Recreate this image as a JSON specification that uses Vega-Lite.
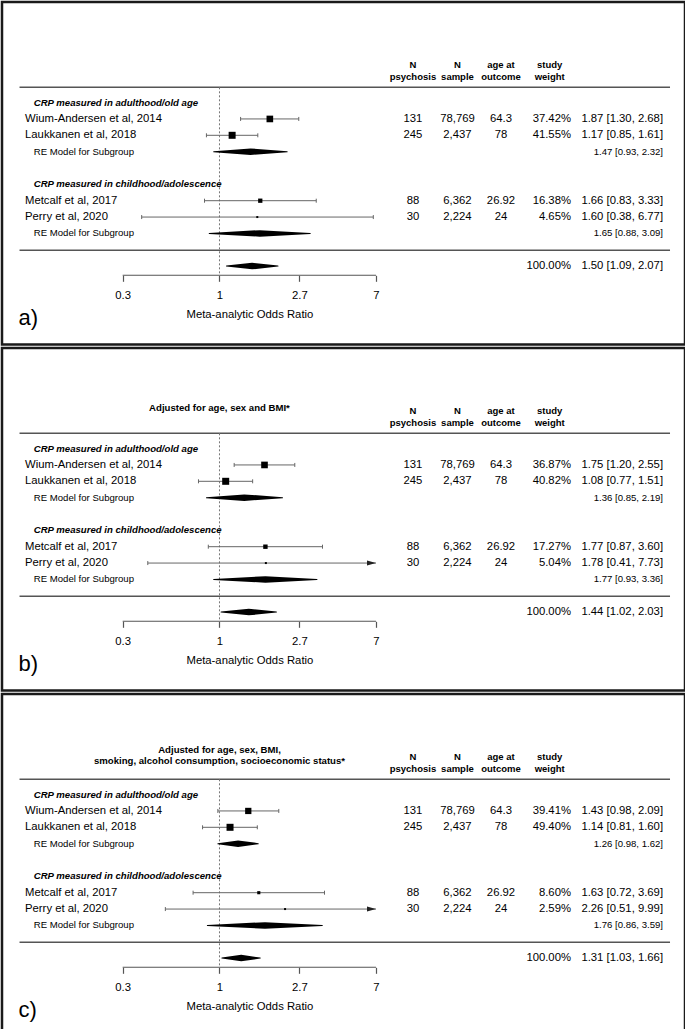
{
"$schema": "https://vega.github.io/schema/vega-lite/v6.json",
"padding": 0,
"spacing": 0,
"datasets": {
"A": [
{"type":"hdr","row":-2.28,"c1":"N","c2":"N","c3":"age at","c4":"study"},
{"type":"hdr","row":-1.566,"c1":"psychosis","c2":"sample","c3":"outcome","c4":"weight"},
{"type":"group","row":0,"label":"CRP measured in adulthood/old age"},
{"type":"study","row":1,"label":"Wium-Andersen et al, 2014","est":1.87,"lo":1.30,"hi":2.68,"w":37.42,"c1":"131","c2":"78,769","c3":"64.3","c4":"37.42%","ci":"1.87 [1.30, 2.68]"},
{"type":"study","row":2,"label":"Laukkanen et al, 2018","est":1.17,"lo":0.85,"hi":1.61,"w":41.55,"c1":"245","c2":"2,437","c3":"78","c4":"41.55%","ci":"1.17 [0.85, 1.61]"},
{"type":"re","row":3,"label":"RE Model for Subgroup","est":1.47,"lo":0.93,"hi":2.32,"ci":"1.47 [0.93, 2.32]"},
{"type":"group","row":5,"label":"CRP measured in childhood/adolescence"},
{"type":"study","row":6,"label":"Metcalf et al, 2017","est":1.66,"lo":0.83,"hi":3.33,"w":16.38,"c1":"88","c2":"6,362","c3":"26.92","c4":"16.38%","ci":"1.66 [0.83, 3.33]"},
{"type":"study","row":7,"label":"Perry et al, 2020","est":1.60,"lo":0.38,"hi":6.77,"w":4.65,"c1":"30","c2":"2,224","c3":"24","c4":"4.65%","ci":"1.60 [0.38, 6.77]"},
{"type":"re","row":8,"label":"RE Model for Subgroup","est":1.65,"lo":0.88,"hi":3.09,"ci":"1.65 [0.88, 3.09]"},
{"type":"overall","row":10,"est":1.50,"lo":1.09,"hi":2.07,"c4":"100.00%","ci":"1.50 [1.09, 2.07]"},
{"type":"letter","row":13.58,"label":"a)"}
],
"B": [
{"type":"title","row":-2.495,"label":"Adjusted for age, sex and BMI*"},
{"type":"hdr","row":-2.28,"c1":"N","c2":"N","c3":"age at","c4":"study"},
{"type":"hdr","row":-1.566,"c1":"psychosis","c2":"sample","c3":"outcome","c4":"weight"},
{"type":"group","row":0,"label":"CRP measured in adulthood/old age"},
{"type":"study","row":1,"label":"Wium-Andersen et al, 2014","est":1.75,"lo":1.20,"hi":2.55,"w":36.87,"c1":"131","c2":"78,769","c3":"64.3","c4":"36.87%","ci":"1.75 [1.20, 2.55]"},
{"type":"study","row":2,"label":"Laukkanen et al, 2018","est":1.08,"lo":0.77,"hi":1.51,"w":40.82,"c1":"245","c2":"2,437","c3":"78","c4":"40.82%","ci":"1.08 [0.77, 1.51]"},
{"type":"re","row":3,"label":"RE Model for Subgroup","est":1.36,"lo":0.85,"hi":2.19,"ci":"1.36 [0.85, 2.19]"},
{"type":"group","row":5,"label":"CRP measured in childhood/adolescence"},
{"type":"study","row":6,"label":"Metcalf et al, 2017","est":1.77,"lo":0.87,"hi":3.60,"w":17.27,"c1":"88","c2":"6,362","c3":"26.92","c4":"17.27%","ci":"1.77 [0.87, 3.60]"},
{"type":"study","row":7,"label":"Perry et al, 2020","est":1.78,"lo":0.41,"hi":7.73,"w":5.04,"c1":"30","c2":"2,224","c3":"24","c4":"5.04%","ci":"1.78 [0.41, 7.73]"},
{"type":"re","row":8,"label":"RE Model for Subgroup","est":1.77,"lo":0.93,"hi":3.36,"ci":"1.77 [0.93, 3.36]"},
{"type":"overall","row":10,"est":1.44,"lo":1.02,"hi":2.03,"c4":"100.00%","ci":"1.44 [1.02, 2.03]"},
{"type":"letter","row":13.58,"label":"b)"}
],
"C": [
{"type":"title","row":-2.746,"label":"Adjusted for age, sex, BMI,"},
{"type":"title","row":-2.073,"label":"smoking, alcohol consumption, socioeconomic status*"},
{"type":"hdr","row":-2.28,"c1":"N","c2":"N","c3":"age at","c4":"study"},
{"type":"hdr","row":-1.566,"c1":"psychosis","c2":"sample","c3":"outcome","c4":"weight"},
{"type":"group","row":0,"label":"CRP measured in adulthood/old age"},
{"type":"study","row":1,"label":"Wium-Andersen et al, 2014","est":1.43,"lo":0.98,"hi":2.09,"w":39.41,"c1":"131","c2":"78,769","c3":"64.3","c4":"39.41%","ci":"1.43 [0.98, 2.09]"},
{"type":"study","row":2,"label":"Laukkanen et al, 2018","est":1.14,"lo":0.81,"hi":1.60,"w":49.40,"c1":"245","c2":"2,437","c3":"78","c4":"49.40%","ci":"1.14 [0.81, 1.60]"},
{"type":"re","row":3,"label":"RE Model for Subgroup","est":1.26,"lo":0.98,"hi":1.62,"ci":"1.26 [0.98, 1.62]"},
{"type":"group","row":5,"label":"CRP measured in childhood/adolescence"},
{"type":"study","row":6,"label":"Metcalf et al, 2017","est":1.63,"lo":0.72,"hi":3.69,"w":8.60,"c1":"88","c2":"6,362","c3":"26.92","c4":"8.60%","ci":"1.63 [0.72, 3.69]"},
{"type":"study","row":7,"label":"Perry et al, 2020","est":2.26,"lo":0.51,"hi":9.99,"w":2.59,"c1":"30","c2":"2,224","c3":"24","c4":"2.59%","ci":"2.26 [0.51, 9.99]"},
{"type":"re","row":8,"label":"RE Model for Subgroup","est":1.76,"lo":0.86,"hi":3.59,"ci":"1.76 [0.86, 3.59]"},
{"type":"overall","row":10,"est":1.31,"lo":1.03,"hi":1.66,"c4":"100.00%","ci":"1.31 [1.03, 1.66]"},
{"type":"letter","row":13.58,"label":"c)"}
]
},
"resolve": {"scale": {"size": "independent"}},
"vconcat": [
{"data": {"name": "A"}, "width": 683, "height": 342.5, "resolve": {"scale": {"size": "independent"}}, "layer": [
{"transform":[{"filter":"datum.type=='overall'"}],"mark":{"type":"rule","color":"#555","strokeWidth":1.5},"encoding":{"x":{"datum":0.0832,"type":"quantitative","scale":{"type":"log","domain":[0.06691,326.4],"nice":false}},"x2":{"datum":270.9},"y":{"datum":-0.936,"type":"quantitative","scale":{"domain":[-6.153,14.795],"reverse":true,"nice":false,"zero":false},"axis":null}}},
{"transform":[{"filter":"datum.type=='overall'"}],"mark":{"type":"rule","color":"#555","strokeWidth":1.5},"encoding":{"x":{"datum":0.0832,"type":"quantitative","scale":{"type":"log","domain":[0.06691,326.4],"nice":false}},"x2":{"datum":270.9},"y":{"datum":9.03,"type":"quantitative","scale":{"domain":[-6.153,14.795],"reverse":true,"nice":false,"zero":false},"axis":null}}},
{"transform":[{"filter":"datum.type=='overall'"}],"mark":{"type":"rule","color":"#777","strokeWidth":1,"strokeDash":[2,2]},"encoding":{"x":{"datum":1,"type":"quantitative","scale":{"type":"log","domain":[0.06691,326.4],"nice":false}},"y":{"datum":-0.936,"type":"quantitative","scale":{"domain":[-6.153,14.795],"reverse":true,"nice":false,"zero":false},"axis":null},"y2":{"datum":10.56}}},
{"transform":[{"filter":"datum.type=='overall'"}],"mark":{"type":"rule","color":"#555","strokeWidth":1.2},"encoding":{"x":{"datum":0.3,"type":"quantitative","scale":{"type":"log","domain":[0.06691,326.4],"nice":false}},"x2":{"datum":7},"y":{"datum":10.56,"type":"quantitative","scale":{"domain":[-6.153,14.795],"reverse":true,"nice":false,"zero":false},"axis":null}}},
{"transform":[{"filter":"datum.type=='study' && datum.hi<=7"}],"mark":{"type":"rule","color":"#666","strokeWidth":1},"encoding":{"x":{"field":"lo","type":"quantitative","scale":{"type":"log","domain":[0.06691,326.4],"nice":false}},"x2":{"field":"hi"},"y":{"field":"row","type":"quantitative","scale":{"domain":[-6.153,14.795],"reverse":true,"nice":false,"zero":false},"axis":null}}},
{"transform":[{"filter":"datum.type=='study' && datum.hi>7"}],"mark":{"type":"rule","color":"#666","strokeWidth":1},"encoding":{"x":{"field":"lo","type":"quantitative","scale":{"type":"log","domain":[0.06691,326.4],"nice":false}},"x2":{"datum":7},"y":{"field":"row","type":"quantitative","scale":{"domain":[-6.153,14.795],"reverse":true,"nice":false,"zero":false},"axis":null}}},
{"transform":[{"filter":"datum.type=='study'"}],"mark":{"type":"point","shape":"M0,-1L0,1","size":16,"filled":false,"stroke":"#666","strokeWidth":1,"opacity":1},"encoding":{"x":{"field":"lo","type":"quantitative","scale":{"type":"log","domain":[0.06691,326.4],"nice":false}},"y":{"field":"row","type":"quantitative","scale":{"domain":[-6.153,14.795],"reverse":true,"nice":false,"zero":false},"axis":null}}},
{"transform":[{"filter":"datum.type=='study' && datum.hi<=7"}],"mark":{"type":"point","shape":"M0,-1L0,1","size":16,"filled":false,"stroke":"#666","strokeWidth":1,"opacity":1},"encoding":{"x":{"field":"hi","type":"quantitative","scale":{"type":"log","domain":[0.06691,326.4],"nice":false}},"y":{"field":"row","type":"quantitative","scale":{"domain":[-6.153,14.795],"reverse":true,"nice":false,"zero":false},"axis":null}}},
{"transform":[{"filter":"datum.type=='study' && datum.hi>7"}],"mark":{"type":"point","shape":"M-2,-0.55L0,0L-2,0.55Z","size":81,"filled":true,"color":"#222","opacity":1},"encoding":{"x":{"datum":7,"type":"quantitative","scale":{"type":"log","domain":[0.06691,326.4],"nice":false}},"y":{"field":"row","type":"quantitative","scale":{"domain":[-6.153,14.795],"reverse":true,"nice":false,"zero":false},"axis":null}}},
{"transform":[{"filter":"datum.type=='study'"}],"mark":{"type":"point","shape":"square","filled":true,"color":"#000","opacity":1},"encoding":{"x":{"field":"est","type":"quantitative","scale":{"type":"log","domain":[0.06691,326.4],"nice":false},"axis":{"values":[0.3,1,2.7,7],"format":"~g","domain":false,"grid":false,"ticks":true,"tickSize":6,"tickColor":"#555","tickWidth":1.2,"labelFontSize":11.3,"labelColor":"#000","labelPadding":8,"labelFlush":false,"labelOverlap":false,"title":"Meta-analytic Odds Ratio","titleFontSize":11.3,"titleFontWeight":"normal","titleColor":"#000","titlePadding":8,"titleX":247.4,"offset":-69.2}},"y":{"field":"row","type":"quantitative","scale":{"domain":[-6.153,14.795],"reverse":true,"nice":false,"zero":false},"axis":null},"size":{"field":"w","type":"quantitative","scale":{"range":[4,49],"zero":false},"legend":null}}},
{"transform":[{"filter":"datum.type=='re' || datum.type=='overall'"},{"fold":["lo","est","hi"],"as":["k","v"]}],"mark":{"type":"trail","color":"#000"},"encoding":{"x":{"field":"v","type":"quantitative","scale":{"type":"log","domain":[0.06691,326.4],"nice":false}},"y":{"field":"row","type":"quantitative","scale":{"domain":[-6.153,14.795],"reverse":true,"nice":false,"zero":false},"axis":null},"detail":{"field":"row","type":"nominal"},"order":{"field":"v","type":"quantitative"},"size":{"field":"k","type":"ordinal","scale":{"type":"ordinal","domain":["lo","est","hi"],"range":[0,6.5,0]},"legend":null}}},
{"transform":[{"filter":"datum.type=='study'"}],"mark":{"type":"text","align":"left","baseline":"middle","fontSize":11.3,"color":"#000"},"encoding":{"x":{"datum":0.0891,"type":"quantitative","scale":{"type":"log","domain":[0.06691,326.4],"nice":false}},"y":{"field":"row","type":"quantitative","scale":{"domain":[-6.153,14.795],"reverse":true,"nice":false,"zero":false},"axis":null},"text":{"field":"label"}}},
{"transform":[{"filter":"datum.type=='group'"}],"mark":{"type":"text","align":"left","baseline":"middle","fontSize":9.6,"fontWeight":"bold","fontStyle":"italic","color":"#000"},"encoding":{"x":{"datum":0.0993,"type":"quantitative","scale":{"type":"log","domain":[0.06691,326.4],"nice":false}},"y":{"field":"row","type":"quantitative","scale":{"domain":[-6.153,14.795],"reverse":true,"nice":false,"zero":false},"axis":null},"text":{"field":"label"}}},
{"transform":[{"filter":"datum.type=='re'"}],"mark":{"type":"text","align":"left","baseline":"middle","fontSize":9.6,"color":"#000"},"encoding":{"x":{"datum":0.0993,"type":"quantitative","scale":{"type":"log","domain":[0.06691,326.4],"nice":false}},"y":{"field":"row","type":"quantitative","scale":{"domain":[-6.153,14.795],"reverse":true,"nice":false,"zero":false},"axis":null},"text":{"field":"label"}}},
{"transform":[{"filter":"datum.type=='study'"}],"mark":{"type":"text","align":"center","baseline":"middle","fontSize":11.3,"color":"#000"},"encoding":{"x":{"datum":11.08,"type":"quantitative","scale":{"type":"log","domain":[0.06691,326.4],"nice":false}},"y":{"field":"row","type":"quantitative","scale":{"domain":[-6.153,14.795],"reverse":true,"nice":false,"zero":false},"axis":null},"text":{"field":"c1"}}},
{"transform":[{"filter":"datum.type=='study'"}],"mark":{"type":"text","align":"center","baseline":"middle","fontSize":11.3,"color":"#000"},"encoding":{"x":{"datum":19.28,"type":"quantitative","scale":{"type":"log","domain":[0.06691,326.4],"nice":false}},"y":{"field":"row","type":"quantitative","scale":{"domain":[-6.153,14.795],"reverse":true,"nice":false,"zero":false},"axis":null},"text":{"field":"c2"}}},
{"transform":[{"filter":"datum.type=='study'"}],"mark":{"type":"text","align":"center","baseline":"middle","fontSize":11.3,"color":"#000"},"encoding":{"x":{"datum":33.12,"type":"quantitative","scale":{"type":"log","domain":[0.06691,326.4],"nice":false}},"y":{"field":"row","type":"quantitative","scale":{"domain":[-6.153,14.795],"reverse":true,"nice":false,"zero":false},"axis":null},"text":{"field":"c3"}}},
{"transform":[{"filter":"datum.type=='study' || datum.type=='overall'"}],"mark":{"type":"text","align":"right","baseline":"middle","fontSize":11.3,"color":"#000"},"encoding":{"x":{"datum":79.08,"type":"quantitative","scale":{"type":"log","domain":[0.06691,326.4],"nice":false}},"y":{"field":"row","type":"quantitative","scale":{"domain":[-6.153,14.795],"reverse":true,"nice":false,"zero":false},"axis":null},"text":{"field":"c4"}}},
{"transform":[{"filter":"datum.type=='study' || datum.type=='overall'"}],"mark":{"type":"text","align":"right","baseline":"middle","fontSize":11.3,"color":"#000"},"encoding":{"x":{"datum":248.4,"type":"quantitative","scale":{"type":"log","domain":[0.06691,326.4],"nice":false}},"y":{"field":"row","type":"quantitative","scale":{"domain":[-6.153,14.795],"reverse":true,"nice":false,"zero":false},"axis":null},"text":{"field":"ci"}}},
{"transform":[{"filter":"datum.type=='re'"}],"mark":{"type":"text","align":"right","baseline":"middle","fontSize":9.6,"color":"#000"},"encoding":{"x":{"datum":248.4,"type":"quantitative","scale":{"type":"log","domain":[0.06691,326.4],"nice":false}},"y":{"field":"row","type":"quantitative","scale":{"domain":[-6.153,14.795],"reverse":true,"nice":false,"zero":false},"axis":null},"text":{"field":"ci"}}},
{"transform":[{"filter":"datum.type=='hdr'"}],"mark":{"type":"text","align":"center","baseline":"middle","fontSize":9.5,"fontWeight":"bold","color":"#000"},"encoding":{"x":{"datum":11.08,"type":"quantitative","scale":{"type":"log","domain":[0.06691,326.4],"nice":false}},"y":{"field":"row","type":"quantitative","scale":{"domain":[-6.153,14.795],"reverse":true,"nice":false,"zero":false},"axis":null},"text":{"field":"c1"}}},
{"transform":[{"filter":"datum.type=='hdr'"}],"mark":{"type":"text","align":"center","baseline":"middle","fontSize":9.5,"fontWeight":"bold","color":"#000"},"encoding":{"x":{"datum":19.28,"type":"quantitative","scale":{"type":"log","domain":[0.06691,326.4],"nice":false}},"y":{"field":"row","type":"quantitative","scale":{"domain":[-6.153,14.795],"reverse":true,"nice":false,"zero":false},"axis":null},"text":{"field":"c2"}}},
{"transform":[{"filter":"datum.type=='hdr'"}],"mark":{"type":"text","align":"center","baseline":"middle","fontSize":9.5,"fontWeight":"bold","color":"#000"},"encoding":{"x":{"datum":33.12,"type":"quantitative","scale":{"type":"log","domain":[0.06691,326.4],"nice":false}},"y":{"field":"row","type":"quantitative","scale":{"domain":[-6.153,14.795],"reverse":true,"nice":false,"zero":false},"axis":null},"text":{"field":"c3"}}},
{"transform":[{"filter":"datum.type=='hdr'"}],"mark":{"type":"text","align":"center","baseline":"middle","fontSize":9.5,"fontWeight":"bold","color":"#000"},"encoding":{"x":{"datum":60.7,"type":"quantitative","scale":{"type":"log","domain":[0.06691,326.4],"nice":false}},"y":{"field":"row","type":"quantitative","scale":{"domain":[-6.153,14.795],"reverse":true,"nice":false,"zero":false},"axis":null},"text":{"field":"c4"}}},
{"transform":[{"filter":"datum.type=='letter'"}],"mark":{"type":"text","align":"left","baseline":"alphabetic","fontSize":22,"color":"#000"},"encoding":{"x":{"datum":0.0822,"type":"quantitative","scale":{"type":"log","domain":[0.06691,326.4],"nice":false}},"y":{"field":"row","type":"quantitative","scale":{"domain":[-6.153,14.795],"reverse":true,"nice":false,"zero":false},"axis":null},"text":{"field":"label"}}}
]},
{"data": {"name": "B"}, "width": 683, "height": 342.5, "resolve": {"scale": {"size": "independent"}}, "layer": [
{"transform":[{"filter":"datum.type=='overall'"}],"mark":{"type":"rule","color":"#555","strokeWidth":1.5},"encoding":{"x":{"datum":0.0832,"type":"quantitative","scale":{"type":"log","domain":[0.06691,326.4],"nice":false}},"x2":{"datum":270.9},"y":{"datum":-0.936,"type":"quantitative","scale":{"domain":[-6.153,14.795],"reverse":true,"nice":false,"zero":false},"axis":null}}},
{"transform":[{"filter":"datum.type=='overall'"}],"mark":{"type":"rule","color":"#555","strokeWidth":1.5},"encoding":{"x":{"datum":0.0832,"type":"quantitative","scale":{"type":"log","domain":[0.06691,326.4],"nice":false}},"x2":{"datum":270.9},"y":{"datum":9.03,"type":"quantitative","scale":{"domain":[-6.153,14.795],"reverse":true,"nice":false,"zero":false},"axis":null}}},
{"transform":[{"filter":"datum.type=='overall'"}],"mark":{"type":"rule","color":"#777","strokeWidth":1,"strokeDash":[2,2]},"encoding":{"x":{"datum":1,"type":"quantitative","scale":{"type":"log","domain":[0.06691,326.4],"nice":false}},"y":{"datum":-0.936,"type":"quantitative","scale":{"domain":[-6.153,14.795],"reverse":true,"nice":false,"zero":false},"axis":null},"y2":{"datum":10.56}}},
{"transform":[{"filter":"datum.type=='overall'"}],"mark":{"type":"rule","color":"#555","strokeWidth":1.2},"encoding":{"x":{"datum":0.3,"type":"quantitative","scale":{"type":"log","domain":[0.06691,326.4],"nice":false}},"x2":{"datum":7},"y":{"datum":10.56,"type":"quantitative","scale":{"domain":[-6.153,14.795],"reverse":true,"nice":false,"zero":false},"axis":null}}},
{"transform":[{"filter":"datum.type=='study' && datum.hi<=7"}],"mark":{"type":"rule","color":"#666","strokeWidth":1},"encoding":{"x":{"field":"lo","type":"quantitative","scale":{"type":"log","domain":[0.06691,326.4],"nice":false}},"x2":{"field":"hi"},"y":{"field":"row","type":"quantitative","scale":{"domain":[-6.153,14.795],"reverse":true,"nice":false,"zero":false},"axis":null}}},
{"transform":[{"filter":"datum.type=='study' && datum.hi>7"}],"mark":{"type":"rule","color":"#666","strokeWidth":1},"encoding":{"x":{"field":"lo","type":"quantitative","scale":{"type":"log","domain":[0.06691,326.4],"nice":false}},"x2":{"datum":7},"y":{"field":"row","type":"quantitative","scale":{"domain":[-6.153,14.795],"reverse":true,"nice":false,"zero":false},"axis":null}}},
{"transform":[{"filter":"datum.type=='study'"}],"mark":{"type":"point","shape":"M0,-1L0,1","size":16,"filled":false,"stroke":"#666","strokeWidth":1,"opacity":1},"encoding":{"x":{"field":"lo","type":"quantitative","scale":{"type":"log","domain":[0.06691,326.4],"nice":false}},"y":{"field":"row","type":"quantitative","scale":{"domain":[-6.153,14.795],"reverse":true,"nice":false,"zero":false},"axis":null}}},
{"transform":[{"filter":"datum.type=='study' && datum.hi<=7"}],"mark":{"type":"point","shape":"M0,-1L0,1","size":16,"filled":false,"stroke":"#666","strokeWidth":1,"opacity":1},"encoding":{"x":{"field":"hi","type":"quantitative","scale":{"type":"log","domain":[0.06691,326.4],"nice":false}},"y":{"field":"row","type":"quantitative","scale":{"domain":[-6.153,14.795],"reverse":true,"nice":false,"zero":false},"axis":null}}},
{"transform":[{"filter":"datum.type=='study' && datum.hi>7"}],"mark":{"type":"point","shape":"M-2,-0.55L0,0L-2,0.55Z","size":81,"filled":true,"color":"#222","opacity":1},"encoding":{"x":{"datum":7,"type":"quantitative","scale":{"type":"log","domain":[0.06691,326.4],"nice":false}},"y":{"field":"row","type":"quantitative","scale":{"domain":[-6.153,14.795],"reverse":true,"nice":false,"zero":false},"axis":null}}},
{"transform":[{"filter":"datum.type=='study'"}],"mark":{"type":"point","shape":"square","filled":true,"color":"#000","opacity":1},"encoding":{"x":{"field":"est","type":"quantitative","scale":{"type":"log","domain":[0.06691,326.4],"nice":false},"axis":{"values":[0.3,1,2.7,7],"format":"~g","domain":false,"grid":false,"ticks":true,"tickSize":6,"tickColor":"#555","tickWidth":1.2,"labelFontSize":11.3,"labelColor":"#000","labelPadding":8,"labelFlush":false,"labelOverlap":false,"title":"Meta-analytic Odds Ratio","titleFontSize":11.3,"titleFontWeight":"normal","titleColor":"#000","titlePadding":8,"titleX":247.4,"offset":-69.2}},"y":{"field":"row","type":"quantitative","scale":{"domain":[-6.153,14.795],"reverse":true,"nice":false,"zero":false},"axis":null},"size":{"field":"w","type":"quantitative","scale":{"range":[4,49],"zero":false},"legend":null}}},
{"transform":[{"filter":"datum.type=='re' || datum.type=='overall'"},{"fold":["lo","est","hi"],"as":["k","v"]}],"mark":{"type":"trail","color":"#000"},"encoding":{"x":{"field":"v","type":"quantitative","scale":{"type":"log","domain":[0.06691,326.4],"nice":false}},"y":{"field":"row","type":"quantitative","scale":{"domain":[-6.153,14.795],"reverse":true,"nice":false,"zero":false},"axis":null},"detail":{"field":"row","type":"nominal"},"order":{"field":"v","type":"quantitative"},"size":{"field":"k","type":"ordinal","scale":{"type":"ordinal","domain":["lo","est","hi"],"range":[0,6.5,0]},"legend":null}}},
{"transform":[{"filter":"datum.type=='study'"}],"mark":{"type":"text","align":"left","baseline":"middle","fontSize":11.3,"color":"#000"},"encoding":{"x":{"datum":0.0891,"type":"quantitative","scale":{"type":"log","domain":[0.06691,326.4],"nice":false}},"y":{"field":"row","type":"quantitative","scale":{"domain":[-6.153,14.795],"reverse":true,"nice":false,"zero":false},"axis":null},"text":{"field":"label"}}},
{"transform":[{"filter":"datum.type=='group'"}],"mark":{"type":"text","align":"left","baseline":"middle","fontSize":9.6,"fontWeight":"bold","fontStyle":"italic","color":"#000"},"encoding":{"x":{"datum":0.0993,"type":"quantitative","scale":{"type":"log","domain":[0.06691,326.4],"nice":false}},"y":{"field":"row","type":"quantitative","scale":{"domain":[-6.153,14.795],"reverse":true,"nice":false,"zero":false},"axis":null},"text":{"field":"label"}}},
{"transform":[{"filter":"datum.type=='re'"}],"mark":{"type":"text","align":"left","baseline":"middle","fontSize":9.6,"color":"#000"},"encoding":{"x":{"datum":0.0993,"type":"quantitative","scale":{"type":"log","domain":[0.06691,326.4],"nice":false}},"y":{"field":"row","type":"quantitative","scale":{"domain":[-6.153,14.795],"reverse":true,"nice":false,"zero":false},"axis":null},"text":{"field":"label"}}},
{"transform":[{"filter":"datum.type=='title'"}],"mark":{"type":"text","align":"center","baseline":"middle","fontSize":9.6,"fontWeight":"bold","color":"#000"},"encoding":{"x":{"datum":1,"type":"quantitative","scale":{"type":"log","domain":[0.06691,326.4],"nice":false}},"y":{"field":"row","type":"quantitative","scale":{"domain":[-6.153,14.795],"reverse":true,"nice":false,"zero":false},"axis":null},"text":{"field":"label"}}},
{"transform":[{"filter":"datum.type=='study'"}],"mark":{"type":"text","align":"center","baseline":"middle","fontSize":11.3,"color":"#000"},"encoding":{"x":{"datum":11.08,"type":"quantitative","scale":{"type":"log","domain":[0.06691,326.4],"nice":false}},"y":{"field":"row","type":"quantitative","scale":{"domain":[-6.153,14.795],"reverse":true,"nice":false,"zero":false},"axis":null},"text":{"field":"c1"}}},
{"transform":[{"filter":"datum.type=='study'"}],"mark":{"type":"text","align":"center","baseline":"middle","fontSize":11.3,"color":"#000"},"encoding":{"x":{"datum":19.28,"type":"quantitative","scale":{"type":"log","domain":[0.06691,326.4],"nice":false}},"y":{"field":"row","type":"quantitative","scale":{"domain":[-6.153,14.795],"reverse":true,"nice":false,"zero":false},"axis":null},"text":{"field":"c2"}}},
{"transform":[{"filter":"datum.type=='study'"}],"mark":{"type":"text","align":"center","baseline":"middle","fontSize":11.3,"color":"#000"},"encoding":{"x":{"datum":33.12,"type":"quantitative","scale":{"type":"log","domain":[0.06691,326.4],"nice":false}},"y":{"field":"row","type":"quantitative","scale":{"domain":[-6.153,14.795],"reverse":true,"nice":false,"zero":false},"axis":null},"text":{"field":"c3"}}},
{"transform":[{"filter":"datum.type=='study' || datum.type=='overall'"}],"mark":{"type":"text","align":"right","baseline":"middle","fontSize":11.3,"color":"#000"},"encoding":{"x":{"datum":79.08,"type":"quantitative","scale":{"type":"log","domain":[0.06691,326.4],"nice":false}},"y":{"field":"row","type":"quantitative","scale":{"domain":[-6.153,14.795],"reverse":true,"nice":false,"zero":false},"axis":null},"text":{"field":"c4"}}},
{"transform":[{"filter":"datum.type=='study' || datum.type=='overall'"}],"mark":{"type":"text","align":"right","baseline":"middle","fontSize":11.3,"color":"#000"},"encoding":{"x":{"datum":248.4,"type":"quantitative","scale":{"type":"log","domain":[0.06691,326.4],"nice":false}},"y":{"field":"row","type":"quantitative","scale":{"domain":[-6.153,14.795],"reverse":true,"nice":false,"zero":false},"axis":null},"text":{"field":"ci"}}},
{"transform":[{"filter":"datum.type=='re'"}],"mark":{"type":"text","align":"right","baseline":"middle","fontSize":9.6,"color":"#000"},"encoding":{"x":{"datum":248.4,"type":"quantitative","scale":{"type":"log","domain":[0.06691,326.4],"nice":false}},"y":{"field":"row","type":"quantitative","scale":{"domain":[-6.153,14.795],"reverse":true,"nice":false,"zero":false},"axis":null},"text":{"field":"ci"}}},
{"transform":[{"filter":"datum.type=='hdr'"}],"mark":{"type":"text","align":"center","baseline":"middle","fontSize":9.5,"fontWeight":"bold","color":"#000"},"encoding":{"x":{"datum":11.08,"type":"quantitative","scale":{"type":"log","domain":[0.06691,326.4],"nice":false}},"y":{"field":"row","type":"quantitative","scale":{"domain":[-6.153,14.795],"reverse":true,"nice":false,"zero":false},"axis":null},"text":{"field":"c1"}}},
{"transform":[{"filter":"datum.type=='hdr'"}],"mark":{"type":"text","align":"center","baseline":"middle","fontSize":9.5,"fontWeight":"bold","color":"#000"},"encoding":{"x":{"datum":19.28,"type":"quantitative","scale":{"type":"log","domain":[0.06691,326.4],"nice":false}},"y":{"field":"row","type":"quantitative","scale":{"domain":[-6.153,14.795],"reverse":true,"nice":false,"zero":false},"axis":null},"text":{"field":"c2"}}},
{"transform":[{"filter":"datum.type=='hdr'"}],"mark":{"type":"text","align":"center","baseline":"middle","fontSize":9.5,"fontWeight":"bold","color":"#000"},"encoding":{"x":{"datum":33.12,"type":"quantitative","scale":{"type":"log","domain":[0.06691,326.4],"nice":false}},"y":{"field":"row","type":"quantitative","scale":{"domain":[-6.153,14.795],"reverse":true,"nice":false,"zero":false},"axis":null},"text":{"field":"c3"}}},
{"transform":[{"filter":"datum.type=='hdr'"}],"mark":{"type":"text","align":"center","baseline":"middle","fontSize":9.5,"fontWeight":"bold","color":"#000"},"encoding":{"x":{"datum":60.7,"type":"quantitative","scale":{"type":"log","domain":[0.06691,326.4],"nice":false}},"y":{"field":"row","type":"quantitative","scale":{"domain":[-6.153,14.795],"reverse":true,"nice":false,"zero":false},"axis":null},"text":{"field":"c4"}}},
{"transform":[{"filter":"datum.type=='letter'"}],"mark":{"type":"text","align":"left","baseline":"alphabetic","fontSize":22,"color":"#000"},"encoding":{"x":{"datum":0.0822,"type":"quantitative","scale":{"type":"log","domain":[0.06691,326.4],"nice":false}},"y":{"field":"row","type":"quantitative","scale":{"domain":[-6.153,14.795],"reverse":true,"nice":false,"zero":false},"axis":null},"text":{"field":"label"}}}
]},
{"data": {"name": "C"}, "width": 683, "height": 342.5, "resolve": {"scale": {"size": "independent"}}, "layer": [
{"transform":[{"filter":"datum.type=='overall'"}],"mark":{"type":"rule","color":"#555","strokeWidth":1.5},"encoding":{"x":{"datum":0.0832,"type":"quantitative","scale":{"type":"log","domain":[0.06691,326.4],"nice":false}},"x2":{"datum":270.9},"y":{"datum":-0.936,"type":"quantitative","scale":{"domain":[-6.153,14.795],"reverse":true,"nice":false,"zero":false},"axis":null}}},
{"transform":[{"filter":"datum.type=='overall'"}],"mark":{"type":"rule","color":"#555","strokeWidth":1.5},"encoding":{"x":{"datum":0.0832,"type":"quantitative","scale":{"type":"log","domain":[0.06691,326.4],"nice":false}},"x2":{"datum":270.9},"y":{"datum":9.03,"type":"quantitative","scale":{"domain":[-6.153,14.795],"reverse":true,"nice":false,"zero":false},"axis":null}}},
{"transform":[{"filter":"datum.type=='overall'"}],"mark":{"type":"rule","color":"#777","strokeWidth":1,"strokeDash":[2,2]},"encoding":{"x":{"datum":1,"type":"quantitative","scale":{"type":"log","domain":[0.06691,326.4],"nice":false}},"y":{"datum":-0.936,"type":"quantitative","scale":{"domain":[-6.153,14.795],"reverse":true,"nice":false,"zero":false},"axis":null},"y2":{"datum":10.56}}},
{"transform":[{"filter":"datum.type=='overall'"}],"mark":{"type":"rule","color":"#555","strokeWidth":1.2},"encoding":{"x":{"datum":0.3,"type":"quantitative","scale":{"type":"log","domain":[0.06691,326.4],"nice":false}},"x2":{"datum":7},"y":{"datum":10.56,"type":"quantitative","scale":{"domain":[-6.153,14.795],"reverse":true,"nice":false,"zero":false},"axis":null}}},
{"transform":[{"filter":"datum.type=='study' && datum.hi<=7"}],"mark":{"type":"rule","color":"#666","strokeWidth":1},"encoding":{"x":{"field":"lo","type":"quantitative","scale":{"type":"log","domain":[0.06691,326.4],"nice":false}},"x2":{"field":"hi"},"y":{"field":"row","type":"quantitative","scale":{"domain":[-6.153,14.795],"reverse":true,"nice":false,"zero":false},"axis":null}}},
{"transform":[{"filter":"datum.type=='study' && datum.hi>7"}],"mark":{"type":"rule","color":"#666","strokeWidth":1},"encoding":{"x":{"field":"lo","type":"quantitative","scale":{"type":"log","domain":[0.06691,326.4],"nice":false}},"x2":{"datum":7},"y":{"field":"row","type":"quantitative","scale":{"domain":[-6.153,14.795],"reverse":true,"nice":false,"zero":false},"axis":null}}},
{"transform":[{"filter":"datum.type=='study'"}],"mark":{"type":"point","shape":"M0,-1L0,1","size":16,"filled":false,"stroke":"#666","strokeWidth":1,"opacity":1},"encoding":{"x":{"field":"lo","type":"quantitative","scale":{"type":"log","domain":[0.06691,326.4],"nice":false}},"y":{"field":"row","type":"quantitative","scale":{"domain":[-6.153,14.795],"reverse":true,"nice":false,"zero":false},"axis":null}}},
{"transform":[{"filter":"datum.type=='study' && datum.hi<=7"}],"mark":{"type":"point","shape":"M0,-1L0,1","size":16,"filled":false,"stroke":"#666","strokeWidth":1,"opacity":1},"encoding":{"x":{"field":"hi","type":"quantitative","scale":{"type":"log","domain":[0.06691,326.4],"nice":false}},"y":{"field":"row","type":"quantitative","scale":{"domain":[-6.153,14.795],"reverse":true,"nice":false,"zero":false},"axis":null}}},
{"transform":[{"filter":"datum.type=='study' && datum.hi>7"}],"mark":{"type":"point","shape":"M-2,-0.55L0,0L-2,0.55Z","size":81,"filled":true,"color":"#222","opacity":1},"encoding":{"x":{"datum":7,"type":"quantitative","scale":{"type":"log","domain":[0.06691,326.4],"nice":false}},"y":{"field":"row","type":"quantitative","scale":{"domain":[-6.153,14.795],"reverse":true,"nice":false,"zero":false},"axis":null}}},
{"transform":[{"filter":"datum.type=='study'"}],"mark":{"type":"point","shape":"square","filled":true,"color":"#000","opacity":1},"encoding":{"x":{"field":"est","type":"quantitative","scale":{"type":"log","domain":[0.06691,326.4],"nice":false},"axis":{"values":[0.3,1,2.7,7],"format":"~g","domain":false,"grid":false,"ticks":true,"tickSize":6,"tickColor":"#555","tickWidth":1.2,"labelFontSize":11.3,"labelColor":"#000","labelPadding":8,"labelFlush":false,"labelOverlap":false,"title":"Meta-analytic Odds Ratio","titleFontSize":11.3,"titleFontWeight":"normal","titleColor":"#000","titlePadding":8,"titleX":247.4,"offset":-69.2}},"y":{"field":"row","type":"quantitative","scale":{"domain":[-6.153,14.795],"reverse":true,"nice":false,"zero":false},"axis":null},"size":{"field":"w","type":"quantitative","scale":{"range":[4,49],"zero":false},"legend":null}}},
{"transform":[{"filter":"datum.type=='re' || datum.type=='overall'"},{"fold":["lo","est","hi"],"as":["k","v"]}],"mark":{"type":"trail","color":"#000"},"encoding":{"x":{"field":"v","type":"quantitative","scale":{"type":"log","domain":[0.06691,326.4],"nice":false}},"y":{"field":"row","type":"quantitative","scale":{"domain":[-6.153,14.795],"reverse":true,"nice":false,"zero":false},"axis":null},"detail":{"field":"row","type":"nominal"},"order":{"field":"v","type":"quantitative"},"size":{"field":"k","type":"ordinal","scale":{"type":"ordinal","domain":["lo","est","hi"],"range":[0,6.5,0]},"legend":null}}},
{"transform":[{"filter":"datum.type=='study'"}],"mark":{"type":"text","align":"left","baseline":"middle","fontSize":11.3,"color":"#000"},"encoding":{"x":{"datum":0.0891,"type":"quantitative","scale":{"type":"log","domain":[0.06691,326.4],"nice":false}},"y":{"field":"row","type":"quantitative","scale":{"domain":[-6.153,14.795],"reverse":true,"nice":false,"zero":false},"axis":null},"text":{"field":"label"}}},
{"transform":[{"filter":"datum.type=='group'"}],"mark":{"type":"text","align":"left","baseline":"middle","fontSize":9.6,"fontWeight":"bold","fontStyle":"italic","color":"#000"},"encoding":{"x":{"datum":0.0993,"type":"quantitative","scale":{"type":"log","domain":[0.06691,326.4],"nice":false}},"y":{"field":"row","type":"quantitative","scale":{"domain":[-6.153,14.795],"reverse":true,"nice":false,"zero":false},"axis":null},"text":{"field":"label"}}},
{"transform":[{"filter":"datum.type=='re'"}],"mark":{"type":"text","align":"left","baseline":"middle","fontSize":9.6,"color":"#000"},"encoding":{"x":{"datum":0.0993,"type":"quantitative","scale":{"type":"log","domain":[0.06691,326.4],"nice":false}},"y":{"field":"row","type":"quantitative","scale":{"domain":[-6.153,14.795],"reverse":true,"nice":false,"zero":false},"axis":null},"text":{"field":"label"}}},
{"transform":[{"filter":"datum.type=='title'"}],"mark":{"type":"text","align":"center","baseline":"middle","fontSize":9.6,"fontWeight":"bold","color":"#000"},"encoding":{"x":{"datum":1,"type":"quantitative","scale":{"type":"log","domain":[0.06691,326.4],"nice":false}},"y":{"field":"row","type":"quantitative","scale":{"domain":[-6.153,14.795],"reverse":true,"nice":false,"zero":false},"axis":null},"text":{"field":"label"}}},
{"transform":[{"filter":"datum.type=='study'"}],"mark":{"type":"text","align":"center","baseline":"middle","fontSize":11.3,"color":"#000"},"encoding":{"x":{"datum":11.08,"type":"quantitative","scale":{"type":"log","domain":[0.06691,326.4],"nice":false}},"y":{"field":"row","type":"quantitative","scale":{"domain":[-6.153,14.795],"reverse":true,"nice":false,"zero":false},"axis":null},"text":{"field":"c1"}}},
{"transform":[{"filter":"datum.type=='study'"}],"mark":{"type":"text","align":"center","baseline":"middle","fontSize":11.3,"color":"#000"},"encoding":{"x":{"datum":19.28,"type":"quantitative","scale":{"type":"log","domain":[0.06691,326.4],"nice":false}},"y":{"field":"row","type":"quantitative","scale":{"domain":[-6.153,14.795],"reverse":true,"nice":false,"zero":false},"axis":null},"text":{"field":"c2"}}},
{"transform":[{"filter":"datum.type=='study'"}],"mark":{"type":"text","align":"center","baseline":"middle","fontSize":11.3,"color":"#000"},"encoding":{"x":{"datum":33.12,"type":"quantitative","scale":{"type":"log","domain":[0.06691,326.4],"nice":false}},"y":{"field":"row","type":"quantitative","scale":{"domain":[-6.153,14.795],"reverse":true,"nice":false,"zero":false},"axis":null},"text":{"field":"c3"}}},
{"transform":[{"filter":"datum.type=='study' || datum.type=='overall'"}],"mark":{"type":"text","align":"right","baseline":"middle","fontSize":11.3,"color":"#000"},"encoding":{"x":{"datum":79.08,"type":"quantitative","scale":{"type":"log","domain":[0.06691,326.4],"nice":false}},"y":{"field":"row","type":"quantitative","scale":{"domain":[-6.153,14.795],"reverse":true,"nice":false,"zero":false},"axis":null},"text":{"field":"c4"}}},
{"transform":[{"filter":"datum.type=='study' || datum.type=='overall'"}],"mark":{"type":"text","align":"right","baseline":"middle","fontSize":11.3,"color":"#000"},"encoding":{"x":{"datum":248.4,"type":"quantitative","scale":{"type":"log","domain":[0.06691,326.4],"nice":false}},"y":{"field":"row","type":"quantitative","scale":{"domain":[-6.153,14.795],"reverse":true,"nice":false,"zero":false},"axis":null},"text":{"field":"ci"}}},
{"transform":[{"filter":"datum.type=='re'"}],"mark":{"type":"text","align":"right","baseline":"middle","fontSize":9.6,"color":"#000"},"encoding":{"x":{"datum":248.4,"type":"quantitative","scale":{"type":"log","domain":[0.06691,326.4],"nice":false}},"y":{"field":"row","type":"quantitative","scale":{"domain":[-6.153,14.795],"reverse":true,"nice":false,"zero":false},"axis":null},"text":{"field":"ci"}}},
{"transform":[{"filter":"datum.type=='hdr'"}],"mark":{"type":"text","align":"center","baseline":"middle","fontSize":9.5,"fontWeight":"bold","color":"#000"},"encoding":{"x":{"datum":11.08,"type":"quantitative","scale":{"type":"log","domain":[0.06691,326.4],"nice":false}},"y":{"field":"row","type":"quantitative","scale":{"domain":[-6.153,14.795],"reverse":true,"nice":false,"zero":false},"axis":null},"text":{"field":"c1"}}},
{"transform":[{"filter":"datum.type=='hdr'"}],"mark":{"type":"text","align":"center","baseline":"middle","fontSize":9.5,"fontWeight":"bold","color":"#000"},"encoding":{"x":{"datum":19.28,"type":"quantitative","scale":{"type":"log","domain":[0.06691,326.4],"nice":false}},"y":{"field":"row","type":"quantitative","scale":{"domain":[-6.153,14.795],"reverse":true,"nice":false,"zero":false},"axis":null},"text":{"field":"c2"}}},
{"transform":[{"filter":"datum.type=='hdr'"}],"mark":{"type":"text","align":"center","baseline":"middle","fontSize":9.5,"fontWeight":"bold","color":"#000"},"encoding":{"x":{"datum":33.12,"type":"quantitative","scale":{"type":"log","domain":[0.06691,326.4],"nice":false}},"y":{"field":"row","type":"quantitative","scale":{"domain":[-6.153,14.795],"reverse":true,"nice":false,"zero":false},"axis":null},"text":{"field":"c3"}}},
{"transform":[{"filter":"datum.type=='hdr'"}],"mark":{"type":"text","align":"center","baseline":"middle","fontSize":9.5,"fontWeight":"bold","color":"#000"},"encoding":{"x":{"datum":60.7,"type":"quantitative","scale":{"type":"log","domain":[0.06691,326.4],"nice":false}},"y":{"field":"row","type":"quantitative","scale":{"domain":[-6.153,14.795],"reverse":true,"nice":false,"zero":false},"axis":null},"text":{"field":"c4"}}},
{"transform":[{"filter":"datum.type=='letter'"}],"mark":{"type":"text","align":"left","baseline":"alphabetic","fontSize":22,"color":"#000"},"encoding":{"x":{"datum":0.0822,"type":"quantitative","scale":{"type":"log","domain":[0.06691,326.4],"nice":false}},"y":{"field":"row","type":"quantitative","scale":{"domain":[-6.153,14.795],"reverse":true,"nice":false,"zero":false},"axis":null},"text":{"field":"label"}}}
]}
],
"config": {
"view": {"stroke": "#1a1a1a", "strokeWidth": 2.5},
"font": "Liberation Sans"
}
}
